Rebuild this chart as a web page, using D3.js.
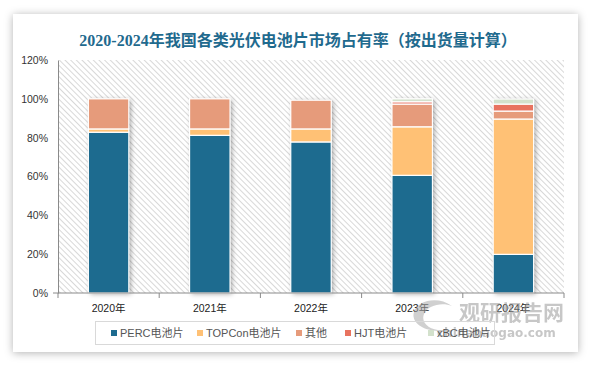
<!DOCTYPE html>
<html>
<head>
<meta charset="utf-8">
<script src="https://cdn.jsdelivr.net/npm/d3@7"></script>
<style>
  body { margin: 0; background: #fff; }
  svg { display: block; }
</style>
</head>
<body>
<script>
// data (percent of shipments)
var years = ["2020年", "2021年", "2022年", "2023年", "2024年"];
var seriesNames = ["PERC电池片", "TOPCon电池片", "其他", "HJT电池片", "xBC电池片"];
var perc = [82.8, 81.2, 77.8, 60.6, 19.9];
var topcon = [1.7, 3.3, 6.7, 25.0, 69.7];
var other = [15.5, 15.5, 14.8, 11.7, 4.1];
var hjt = [0, 0, 0, 1.2, 3.6];
var xbc = [0, 0, 0, 1.5, 2.6];
var yTicks = [0, 20, 40, 60, 80, 100, 120];
var colors = ["#1d6b8f", "#ffc175", "#e69b7b", "#e8735f", "#d3e1cc"];

var W = 594, H = 366;
var svg = d3.select("body").append("svg")
    .attr("width", W)
    .attr("height", H);

var defs = svg.append("defs");

// card shadow
var f = defs.append("filter").attr("id", "cardShadow")
    .attr("x", "-10%").attr("y", "-10%").attr("width", "120%").attr("height", "120%");
f.append("feDropShadow").attr("dx", 0).attr("dy", 1).attr("stdDeviation", 4)
    .attr("flood-color", "#000").attr("flood-opacity", 0.3);

// bar shadow
var bf = defs.append("filter").attr("id", "barShadow")
    .attr("x", "-20%").attr("y", "-10%").attr("width", "150%").attr("height", "130%");
bf.append("feDropShadow").attr("dx", 2).attr("dy", 1).attr("stdDeviation", 2.5)
    .attr("flood-color", "#000").attr("flood-opacity", 0.35);

// hatch pattern for plot background, lines running down to the right
var pat = defs.append("pattern").attr("id", "hatch")
    .attr("patternUnits", "userSpaceOnUse")
    .attr("width", 4).attr("height", 4)
    .attr("patternTransform", "rotate(45)");
pat.append("rect").attr("width", 4).attr("height", 4).attr("fill", "#fff");
pat.append("line").attr("x1", 0).attr("y1", 0).attr("x2", 4).attr("y2", 0)
    .attr("stroke", "#c8c8c8").attr("stroke-width", 1.4);

// card
svg.append("rect")
    .attr("x", 13).attr("y", 14)
    .attr("width", 565).attr("height", 338)
    .attr("fill", "#fff")
    .attr("filter", "url(#cardShadow)");

// title
svg.append("text")
    .attr("x", 298).attr("y", 46)
    .attr("text-anchor", "middle")
    .attr("font-family", "'Liberation Serif', 'Noto Sans CJK SC', serif")
    .attr("font-weight", "bold")
    .attr("font-size", 16)
    .attr("fill", "#1f6a8e")
    .text("2020-2024年我国各类光伏电池片市场占有率（按出货量计算）");

var margin = { left: 58, right: 564, top: 60, bottom: 293 };

var x = d3.scaleBand()
    .domain(years)
    .range([margin.left, margin.right])
    .paddingInner(0.6)
    .paddingOuter(0.3);

var y = d3.scaleLinear()
    .domain([0, 120])
    .range([margin.bottom, margin.top]);

// plot background
svg.append("rect")
    .attr("x", margin.left).attr("y", margin.top)
    .attr("width", margin.right - margin.left)
    .attr("height", margin.bottom - margin.top)
    .attr("fill", "url(#hatch)");

// stack
var rows = years.map(function(yr, i) {
    return { year: yr, s0: perc[i], s1: topcon[i], s2: other[i], s3: hjt[i], s4: xbc[i] };
});
var stack = d3.stack().keys(["s0", "s1", "s2", "s3", "s4"]);
var layers = stack(rows);

function total(d) { return d.s0 + d.s1 + d.s2 + d.s3 + d.s4; }

// shadow behind whole bars
svg.append("g").selectAll("rect")
    .data(rows)
    .join("rect")
    .attr("x", function(d) { return x(d.year); })
    .attr("y", function(d) { return y(total(d)); })
    .attr("width", x.bandwidth())
    .attr("height", function(d) { return y(0) - y(total(d)); })
    .attr("fill", "#fff")
    .attr("filter", "url(#barShadow)");

svg.append("g").selectAll("g")
    .data(layers)
    .join("g")
    .attr("fill", function(d, i) { return colors[i]; })
    .selectAll("rect")
    .data(function(d) { return d.filter(function(p) { return p[1] - p[0] > 0; }); })
    .join("rect")
    .attr("x", function(d) { return x(d.data.year); })
    .attr("y", function(d) { return y(d[1]); })
    .attr("width", x.bandwidth())
    .attr("height", function(d) { return y(d[0]) - y(d[1]); })
    .attr("stroke", "#fff")
    .attr("stroke-width", 1.2);

// y axis
var yAxis = svg.append("g")
    .attr("transform", "translate(" + margin.left + ",0)")
    .call(d3.axisLeft(y).tickValues(yTicks).tickSize(0).tickPadding(10)
        .tickFormat(function(d) { return d + "%"; }));
yAxis.select(".domain").attr("stroke", "#8a8a8a");
yAxis.selectAll("text")
    .attr("font-family", "'Liberation Sans', Arial, sans-serif")
    .attr("font-size", 10.5)
    .attr("fill", "#333");

// x axis
var xAxis = svg.append("g")
    .attr("transform", "translate(0," + margin.bottom + ")")
    .call(d3.axisBottom(x).tickSize(0).tickPadding(12));
xAxis.select(".domain").attr("stroke", "#8a8a8a")
    .attr("d", "M" + (margin.left - 5) + ",0H" + margin.right);
xAxis.selectAll("text")
    .attr("font-family", "'Liberation Sans', 'Noto Sans CJK SC', sans-serif")
    .attr("font-size", 10.5)
    .attr("fill", "#222");

// category boundary ticks
var bounds = d3.range(years.length + 1).map(function(i) { return margin.left + i * (margin.right - margin.left) / years.length; });
svg.append("g").selectAll("line")
    .data(bounds)
    .join("line")
    .attr("x1", function(d) { return d; })
    .attr("x2", function(d) { return d; })
    .attr("y1", margin.bottom)
    .attr("y2", margin.bottom + 5)
    .attr("stroke", "#8a8a8a");

// watermark
var wm = svg.append("g").attr("opacity", 0.55);
wm.append("path")
    .attr("d", "M452,306 C438,296 418,300 414,312 C410,324 428,334 446,330 C432,332 420,324 424,314 C428,305 442,302 452,306 Z")
    .attr("fill", "#aaa");
wm.append("text")
    .attr("x", 459).attr("y", 320)
    .attr("font-family", "'Noto Sans CJK SC', sans-serif")
    .attr("font-weight", "bold")
    .attr("font-size", 21)
    .attr("fill", "#9a9a9a")
    .text("观研报告网");
wm.append("text")
    .attr("x", 437).attr("y", 337)
    .attr("font-family", "'DejaVu Sans', sans-serif")
    .attr("font-weight", "bold")
    .attr("font-size", 12)
    .attr("fill", "#9a9a9a")
    .text("chinabaogao.com");

// legend
svg.append("rect")
    .attr("x", 95.5).attr("y", 321.5)
    .attr("width", 399).attr("height", 23)
    .attr("fill", "none")
    .attr("stroke", "#d9d9d9");

var legendX = [111, 197, 296, 345, 428];
var lg = svg.append("g").selectAll("g")
    .data(seriesNames)
    .join("g")
    .attr("transform", function(d, i) { return "translate(" + legendX[i] + ",333)"; });
lg.append("rect")
    .attr("x", 0).attr("y", -3)
    .attr("width", 6).attr("height", 6)
    .attr("fill", function(d, i) { return colors[i]; });
lg.append("text")
    .attr("x", 9).attr("y", 4)
    .attr("font-family", "'Liberation Sans', 'Noto Sans CJK SC', sans-serif")
    .attr("font-size", 11)
    .attr("fill", "#555")
    .text(function(d) { return d; });
</script>
</body>
</html>
